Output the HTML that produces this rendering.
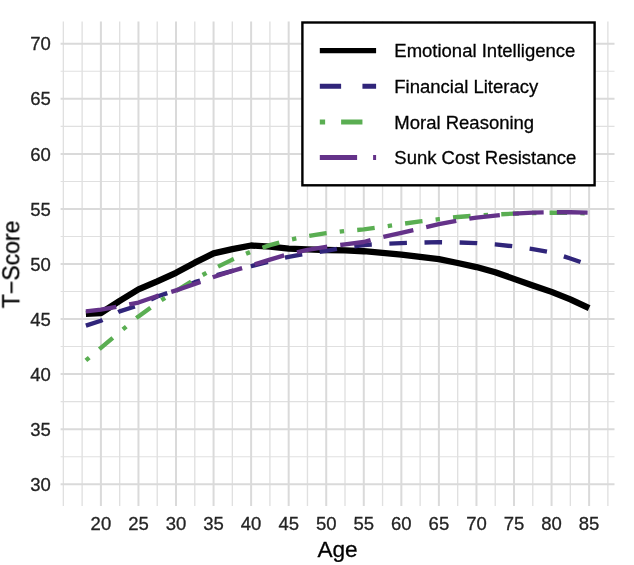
<!DOCTYPE html>
<html><head><meta charset="utf-8"><title>chart</title>
<style>
html,body{margin:0;padding:0;background:#fff;}
svg{display:block;}
text{font-family:"Liberation Sans",sans-serif;}
.t{opacity:0.995;}
.t text{stroke-width:0.3px;paint-order:stroke fill;}
</style></head><body>
<svg width="634" height="565" viewBox="0 0 634 565">
<rect x="0" y="0" width="634" height="565" fill="#ffffff"/>
<g stroke="#E0E0E0" stroke-width="1.1" fill="none">
<line x1="63.35" y1="21.5" x2="63.35" y2="506.0" stroke-width="1.35"/>
<line x1="82.12" y1="21.5" x2="82.12" y2="506.0" stroke-width="1.35"/>
<line x1="119.68" y1="21.5" x2="119.68" y2="506.0" stroke-width="1.35"/>
<line x1="157.23" y1="21.5" x2="157.23" y2="506.0" stroke-width="1.35"/>
<line x1="194.79" y1="21.5" x2="194.79" y2="506.0" stroke-width="1.35"/>
<line x1="232.34" y1="21.5" x2="232.34" y2="506.0" stroke-width="1.35"/>
<line x1="269.90" y1="21.5" x2="269.90" y2="506.0" stroke-width="1.35"/>
<line x1="307.45" y1="21.5" x2="307.45" y2="506.0" stroke-width="1.35"/>
<line x1="345.01" y1="21.5" x2="345.01" y2="506.0" stroke-width="1.35"/>
<line x1="382.56" y1="21.5" x2="382.56" y2="506.0" stroke-width="1.35"/>
<line x1="420.12" y1="21.5" x2="420.12" y2="506.0" stroke-width="1.35"/>
<line x1="457.67" y1="21.5" x2="457.67" y2="506.0" stroke-width="1.35"/>
<line x1="495.23" y1="21.5" x2="495.23" y2="506.0" stroke-width="1.35"/>
<line x1="532.78" y1="21.5" x2="532.78" y2="506.0" stroke-width="1.35"/>
<line x1="570.34" y1="21.5" x2="570.34" y2="506.0" stroke-width="1.35"/>
<line x1="607.89" y1="21.5" x2="607.89" y2="506.0" stroke-width="1.35"/>
<line x1="60.6" y1="456.68" x2="614.5" y2="456.68"/>
<line x1="60.6" y1="401.62" x2="614.5" y2="401.62"/>
<line x1="60.6" y1="346.57" x2="614.5" y2="346.57"/>
<line x1="60.6" y1="291.52" x2="614.5" y2="291.52"/>
<line x1="60.6" y1="236.47" x2="614.5" y2="236.47"/>
<line x1="60.6" y1="181.43" x2="614.5" y2="181.43"/>
<line x1="60.6" y1="126.38" x2="614.5" y2="126.38"/>
<line x1="60.6" y1="71.32" x2="614.5" y2="71.32"/>
</g>
<g stroke="#DADADA" stroke-width="2.0" fill="none">
<line x1="100.90" y1="21.5" x2="100.90" y2="506.0"/>
<line x1="138.46" y1="21.5" x2="138.46" y2="506.0"/>
<line x1="176.01" y1="21.5" x2="176.01" y2="506.0"/>
<line x1="213.56" y1="21.5" x2="213.56" y2="506.0"/>
<line x1="251.12" y1="21.5" x2="251.12" y2="506.0"/>
<line x1="288.68" y1="21.5" x2="288.68" y2="506.0"/>
<line x1="326.23" y1="21.5" x2="326.23" y2="506.0"/>
<line x1="363.78" y1="21.5" x2="363.78" y2="506.0"/>
<line x1="401.34" y1="21.5" x2="401.34" y2="506.0"/>
<line x1="438.89" y1="21.5" x2="438.89" y2="506.0"/>
<line x1="476.45" y1="21.5" x2="476.45" y2="506.0"/>
<line x1="514.00" y1="21.5" x2="514.00" y2="506.0"/>
<line x1="551.56" y1="21.5" x2="551.56" y2="506.0"/>
<line x1="589.12" y1="21.5" x2="589.12" y2="506.0"/>
<line x1="60.6" y1="484.20" x2="614.5" y2="484.20"/>
<line x1="60.6" y1="429.15" x2="614.5" y2="429.15"/>
<line x1="60.6" y1="374.10" x2="614.5" y2="374.10"/>
<line x1="60.6" y1="319.05" x2="614.5" y2="319.05"/>
<line x1="60.6" y1="264.00" x2="614.5" y2="264.00"/>
<line x1="60.6" y1="208.95" x2="614.5" y2="208.95"/>
<line x1="60.6" y1="153.90" x2="614.5" y2="153.90"/>
<line x1="60.6" y1="98.85" x2="614.5" y2="98.85"/>
<line x1="60.6" y1="43.80" x2="614.5" y2="43.80"/>
</g>
<g fill="none" stroke-linejoin="round" stroke-linecap="butt">
<polyline points="85.88,313.88 100.90,312.99 119.68,300.88 138.46,289.43 157.23,281.40 176.01,272.81 194.79,262.68 213.56,253.43 232.34,249.14 251.12,245.50 269.90,246.71 288.68,248.59 307.45,249.47 326.23,250.02 345.01,250.46 363.78,251.23 382.56,252.77 401.34,254.64 420.12,256.95 438.89,259.16 457.67,263.01 476.45,267.08 495.23,272.26 514.00,278.86 532.78,285.47 551.56,291.86 570.34,299.34 589.12,308.15" stroke="#000000" stroke-width="6.3"/>
<polyline points="85.88,325.66 100.90,320.70 119.68,311.34 138.46,305.40 157.23,296.48 176.01,290.20 194.79,282.17 213.56,276.11 232.34,270.83 251.12,266.20 269.90,261.25 288.68,256.84 307.45,253.54 326.23,250.79 345.01,247.48 363.78,245.06 382.56,243.85 401.34,243.08 420.12,242.53 438.89,242.20 457.67,242.42 476.45,243.08 495.23,244.40 514.00,246.38 532.78,249.14 551.56,252.44 570.34,258.50 589.12,264.88" stroke="#30257A" stroke-width="4.35" stroke-dasharray="17.58 17.58"/>
<polyline points="85.88,360.45 100.90,347.90 119.68,332.04 138.46,316.41 157.23,302.87 176.01,290.97 194.79,279.41 213.56,268.84 232.34,259.60 251.12,251.67 269.90,245.17 288.68,240.00 307.45,236.14 326.23,233.17 345.01,230.97 363.78,229.43 382.56,226.90 401.34,224.03 420.12,221.39 438.89,219.19 457.67,216.99 476.45,215.56 495.23,214.45 514.00,213.68 532.78,213.02 551.56,212.69 570.34,212.80 589.12,213.35" stroke="#5AAE52" stroke-width="4.35" stroke-dasharray="4.39 13.18 17.58 13.18"/>
<polyline points="85.88,311.34 100.90,309.69 119.68,306.39 138.46,302.53 157.23,295.93 176.01,290.42 194.79,284.04 213.56,276.99 232.34,271.05 251.12,265.54 269.90,259.60 288.68,254.09 307.45,249.91 326.23,246.82 345.01,244.40 363.78,241.98 382.56,237.03 401.34,232.84 420.12,228.55 438.89,224.14 457.67,220.51 476.45,217.54 495.23,215.56 514.00,213.68 532.78,212.69 551.56,212.25 570.34,212.25 589.12,212.69" stroke="#643289" stroke-width="4.35" stroke-dasharray="30.76 13.18"/>
</g>
<rect x="302.4" y="22.5" width="292.2" height="162.8" fill="#ffffff" stroke="#000000" stroke-width="2.4"/>
<g fill="none" stroke-linecap="butt">
<line x1="319.8" y1="50.6" x2="376.1" y2="50.6" stroke="#000" stroke-width="5.33"/>
<line x1="319.8" y1="86.3" x2="376.1" y2="86.3" stroke="#30257A" stroke-width="5.0" stroke-dasharray="21.32 21.32"/>
<line x1="319.8" y1="122.0" x2="376.1" y2="122.0" stroke="#5AAE52" stroke-width="5.0" stroke-dasharray="5.33 15.99 21.32 15.99"/>
<line x1="319.8" y1="157.4" x2="376.1" y2="157.4" stroke="#643289" stroke-width="5.0" stroke-dasharray="37.31 15.99"/>
</g>
<g class="t">
<g font-size="18.5" fill="#000000" stroke="#000000">
<text x="394.3" y="57.1">Emotional Intelligence</text>
<text x="394.3" y="92.8">Financial Literacy</text>
<text x="394.3" y="128.5">Moral Reasoning</text>
<text x="394.3" y="163.9">Sunk Cost Resistance</text>
</g>
<g font-size="18.5" fill="#222222" stroke="#222222" text-anchor="middle">
<text x="100.90" y="530.0">20</text>
<text x="138.46" y="530.0">25</text>
<text x="176.01" y="530.0">30</text>
<text x="213.56" y="530.0">35</text>
<text x="251.12" y="530.0">40</text>
<text x="288.68" y="530.0">45</text>
<text x="326.23" y="530.0">50</text>
<text x="363.78" y="530.0">55</text>
<text x="401.34" y="530.0">60</text>
<text x="438.89" y="530.0">65</text>
<text x="476.45" y="530.0">70</text>
<text x="514.00" y="530.0">75</text>
<text x="551.56" y="530.0">80</text>
<text x="589.12" y="530.0">85</text>
</g>
<g font-size="18.5" fill="#222222" stroke="#222222" text-anchor="end">
<text x="50.8" y="490.80">30</text>
<text x="50.8" y="435.75">35</text>
<text x="50.8" y="380.70">40</text>
<text x="50.8" y="325.65">45</text>
<text x="50.8" y="270.60">50</text>
<text x="50.8" y="215.55">55</text>
<text x="50.8" y="160.50">60</text>
<text x="50.8" y="105.45">65</text>
<text x="50.8" y="50.40">70</text>
</g>
<text x="337.6" y="556.7" font-size="22.6" fill="#000" stroke="#000" text-anchor="middle">Age</text>
<text transform="translate(19.3,264.4) rotate(-90)" font-size="23" fill="#000" stroke="#000" text-anchor="middle">T−Score</text>
</g>
</svg></body></html>
